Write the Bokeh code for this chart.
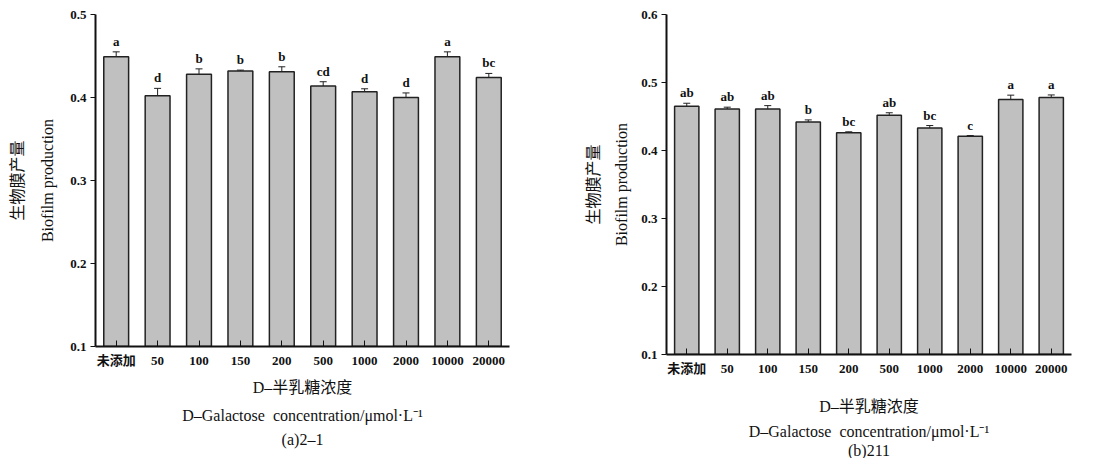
from bokeh.plotting import figure
from bokeh.models import ColumnDataSource, Whisker, Title, FactorRange, FixedTicker
from bokeh.layouts import row
from bokeh.core.properties import value
from bokeh.embed import file_html
from bokeh.resources import INLINE

categories = ["未添加", "50", "100", "150", "200", "500", "1000", "2000", "10000", "20000"]

values_a = [0.449, 0.402, 0.428, 0.432, 0.431, 0.414, 0.407, 0.400, 0.449, 0.424]
errors_a = [0.006, 0.009, 0.0065, 0.001, 0.006, 0.005, 0.0035, 0.0055, 0.006, 0.005]
letters_a = ["a", "d", "b", "b", "b", "cd", "d", "d", "a", "bc"]

values_b = [0.465, 0.461, 0.461, 0.442, 0.426, 0.452, 0.433, 0.421, 0.475, 0.478]
errors_b = [0.0045, 0.0027, 0.005, 0.003, 0.0015, 0.0035, 0.0037, 0.001, 0.0064, 0.0037]
letters_b = ["ab", "ab", "ab", "b", "bc", "ab", "bc", "c", "a", "a"]

yticks_a = [0.1, 0.2, 0.3, 0.4, 0.5]
yticks_b = [0.1, 0.2, 0.3, 0.4, 0.5, 0.6]

SERIF = "'Liberation Serif', 'Noto Sans CJK SC'"


def panel(vals, errs, letters, ymax, yticks, caption,
          fw, fh, bl, br, bt, bb, ylab_standoff, cap_standoffs, spacer=None):
    src = ColumnDataSource(dict(
        x=categories, top=vals,
        upper=[v + e for v, e in zip(vals, errs)],
        lower=[v - e for v, e in zip(vals, errs)],
        lab=letters,
    ))
    p = figure(x_range=FactorRange(factors=categories, range_padding=0),
               y_range=(0.1, ymax),
               frame_width=fw, frame_height=fh,
               output_backend="svg", toolbar_location=None,
               min_border_left=bl, min_border_right=br,
               min_border_top=bt, min_border_bottom=bb)
    p.outline_line_color = None
    p.grid.grid_line_color = None
    p.vbar(x="x", top="top", bottom=0.1, width=0.6, source=src,
           fill_color="#c0c0c0", line_color="#222222", line_width=1.5)
    w = Whisker(base="x", upper="upper", lower="lower", source=src,
                line_color="#222222", line_width=1)
    w.upper_head.size = 7
    w.lower_head.size = 7
    w.upper_head.line_color = "#222222"
    w.lower_head.line_color = "#222222"
    p.add_layout(w)
    p.text(x="x", y="upper", text="lab", source=src, y_offset=-3,
           text_align="center", text_baseline="bottom",
           text_font=value("Liberation Serif"), text_font_style="bold",
           text_font_size="13px", text_color="#111111")

    p.yaxis.ticker = FixedTicker(ticks=yticks)
    p.yaxis.minor_tick_line_color = None
    p.yaxis.major_tick_in = 0
    p.yaxis.major_tick_out = 5
    p.yaxis.major_label_standoff = 4
    for ax in (p.xaxis, p.yaxis):
        ax.axis_line_width = 2
        ax.axis_line_color = "#111111"
        ax.major_tick_line_color = "#111111"
        ax.major_label_text_font = SERIF
        ax.major_label_text_font_style = "bold"
        ax.major_label_text_font_size = "13px"
        ax.major_label_text_color = "#111111"
    p.xaxis.major_tick_in = 6
    p.xaxis.major_tick_out = 0
    p.xaxis.major_label_standoff = 6
    if spacer is not None:
        p.xaxis.axis_label = "\u00a0"
        p.xaxis.axis_label_text_font_size = "2px"
        p.xaxis.axis_label_standoff = spacer

    # y labels (rotated titles on left)
    p.add_layout(Title(text="Biofilm production", align="center",
                       text_font=SERIF, text_font_style="normal",
                       text_font_size="16px", text_color="#111111",
                       standoff=ylab_standoff), "left")
    p.add_layout(Title(text="生物膜产量", align="center",
                       text_font=SERIF, text_font_style="normal",
                       text_font_size="16px", text_color="#111111",
                       standoff=0), "left")

    texts = ["D–半乳糖浓度", "D–Galactose\u00a0 concentration/μmol·L⁻¹", caption]
    for t, s in zip(texts, cap_standoffs):
        p.add_layout(Title(text=t, align="center", text_font=SERIF,
                           text_font_style="normal", text_font_size="16px",
                           text_color="#111111", standoff=s), "below")
    return p


pa = panel(values_a, errors_a, letters_a, 0.5, yticks_a, "(a)2–1",
           414, 332, 95, 31, 9, 111, 23, [13, 5, 4])
pb = panel(values_b, errors_b, letters_b, 0.6, yticks_b, "(b)211",
           405, 340, 126, 6, 14, 98, 18, [12, 0, 0], spacer=6)

layout = row(pa, pb)
open("out.html", "w").write(file_html(layout, INLINE))
